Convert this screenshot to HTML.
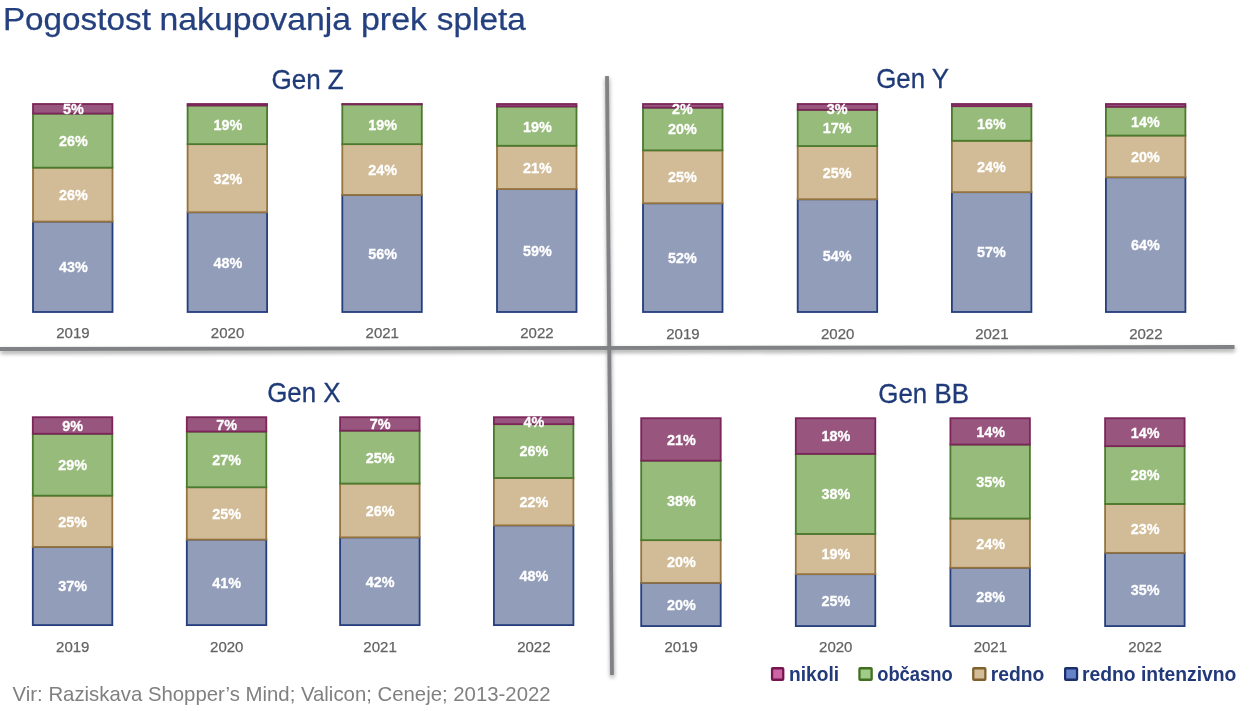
<!DOCTYPE html>
<html lang="sl"><head><meta charset="utf-8"><title>Pogostost nakupovanja prek spleta</title>
<style>
html,body{margin:0;padding:0;background:#fff;}
body{width:1251px;height:711px;overflow:hidden;position:relative;font-family:"Liberation Sans", sans-serif;}
svg{position:absolute;left:0;top:0;display:block;}
text{font-family:"Liberation Sans", sans-serif;}
.lbl{font-weight:bold;fill:#fff;stroke:#fff;stroke-width:0.3px;font-size:15.4px;text-anchor:middle;}
.yr{fill:#636363;stroke:#636363;stroke-width:0.25px;font-size:15.0px;text-anchor:middle;}
.gt{fill:#1F3A78;stroke:#1F3A78;stroke-width:0.3px;font-size:27.4px;}
.lg{fill:#22397A;font-weight:bold;font-size:19.8px;}
</style></head><body>
<svg width="1251" height="711" viewBox="0 0 1251 711">
<defs>
<filter id="sh" x="-5%" y="-5%" width="110%" height="110%" filterUnits="userSpaceOnUse">
<feGaussianBlur stdDeviation="1.9"/>
</filter>
</defs>

<text y="29.8" font-size="30.8" fill="#24407E" stroke="#24407E" stroke-width="0.25"><tspan x="2.9" textLength="148" lengthAdjust="spacingAndGlyphs">Pogostost</tspan> <tspan x="159.5" textLength="191.5" lengthAdjust="spacingAndGlyphs">nakupovanja</tspan> <tspan x="361" textLength="66" lengthAdjust="spacingAndGlyphs">prek</tspan> <tspan x="436.8" textLength="89" lengthAdjust="spacingAndGlyphs">spleta</tspan></text>
<g opacity="0.38" filter="url(#sh)" fill="none" stroke="#000" stroke-width="4">
<line x1="0.5" y1="351.6" x2="1235" y2="349.6"/>
<line x1="607.3" y1="78.6" x2="612.3" y2="677.6"/>
</g>
<g fill="none" stroke="#808285" stroke-width="3.8">
<line x1="0" y1="349" x2="1234.5" y2="347"/>
<line x1="607" y1="76" x2="612" y2="675"/>
</g>
<text class="gt" x="271.4" y="89" textLength="72.4" lengthAdjust="spacingAndGlyphs">Gen Z</text>
<text class="gt" x="876.2" y="87.8" textLength="72.8" lengthAdjust="spacingAndGlyphs">Gen Y</text>
<text class="gt" x="267.2" y="402" textLength="73.3" lengthAdjust="spacingAndGlyphs">Gen X</text>
<text class="gt" x="878.3" y="403" textLength="90.6" lengthAdjust="spacingAndGlyphs">Gen BB</text>
<rect x="33.00" y="221.55" width="79.50" height="90.45" fill="#929DBA" stroke="#243E7E" stroke-width="1.8"/>
<rect x="33.00" y="167.65" width="79.50" height="53.90" fill="#D2BC98" stroke="#94733F" stroke-width="1.8"/>
<rect x="33.00" y="113.55" width="79.50" height="54.10" fill="#97BB7B" stroke="#4B7A2E" stroke-width="1.8"/>
<rect x="33.00" y="104.00" width="79.50" height="9.55" fill="#98557E" stroke="#7B2559" stroke-width="1.8"/>
<text class="lbl" transform="translate(73.35 114.18) scale(0.935 1)">5%</text>
<text class="lbl" transform="translate(73.35 146.00) scale(0.935 1)">26%</text>
<text class="lbl" transform="translate(73.35 200.00) scale(0.935 1)">26%</text>
<text class="lbl" transform="translate(73.35 272.17) scale(0.935 1)">43%</text>
<text class="yr" transform="translate(72.95 337.90) scale(1.0 1)">2019</text>
<rect x="187.60" y="212.25" width="79.50" height="99.75" fill="#929DBA" stroke="#243E7E" stroke-width="1.8"/>
<rect x="187.60" y="144.15" width="79.50" height="68.10" fill="#D2BC98" stroke="#94733F" stroke-width="1.8"/>
<rect x="187.60" y="105.45" width="79.50" height="38.70" fill="#97BB7B" stroke="#4B7A2E" stroke-width="1.8"/>
<rect x="187.60" y="104.00" width="79.50" height="1.45" fill="#98557E" stroke="#7B2559" stroke-width="1.8"/>
<text class="lbl" transform="translate(227.95 130.20) scale(0.935 1)">19%</text>
<text class="lbl" transform="translate(227.95 183.60) scale(0.935 1)">32%</text>
<text class="lbl" transform="translate(227.95 267.52) scale(0.935 1)">48%</text>
<text class="yr" transform="translate(227.55 337.90) scale(1.0 1)">2020</text>
<rect x="342.30" y="194.95" width="79.50" height="117.05" fill="#929DBA" stroke="#243E7E" stroke-width="1.8"/>
<rect x="342.30" y="144.15" width="79.50" height="50.80" fill="#D2BC98" stroke="#94733F" stroke-width="1.8"/>
<rect x="342.30" y="104.35" width="79.50" height="39.80" fill="#97BB7B" stroke="#4B7A2E" stroke-width="1.8"/>
<rect x="342.30" y="104.00" width="79.50" height="0.35" fill="#98557E" stroke="#7B2559" stroke-width="1.8"/>
<text class="lbl" transform="translate(382.65 129.65) scale(0.935 1)">19%</text>
<text class="lbl" transform="translate(382.65 174.95) scale(0.935 1)">24%</text>
<text class="lbl" transform="translate(382.65 258.88) scale(0.935 1)">56%</text>
<text class="yr" transform="translate(382.25 337.90) scale(1.0 1)">2021</text>
<rect x="497.00" y="189.05" width="79.50" height="122.95" fill="#929DBA" stroke="#243E7E" stroke-width="1.8"/>
<rect x="497.00" y="145.75" width="79.50" height="43.30" fill="#D2BC98" stroke="#94733F" stroke-width="1.8"/>
<rect x="497.00" y="106.45" width="79.50" height="39.30" fill="#97BB7B" stroke="#4B7A2E" stroke-width="1.8"/>
<rect x="497.00" y="104.00" width="79.50" height="2.45" fill="#98557E" stroke="#7B2559" stroke-width="1.8"/>
<text class="lbl" transform="translate(537.35 131.50) scale(0.935 1)">19%</text>
<text class="lbl" transform="translate(537.35 172.80) scale(0.935 1)">21%</text>
<text class="lbl" transform="translate(537.35 255.92) scale(0.935 1)">59%</text>
<text class="yr" transform="translate(536.95 337.90) scale(1.0 1)">2022</text>
<rect x="643.00" y="203.25" width="79.50" height="108.75" fill="#929DBA" stroke="#243E7E" stroke-width="1.8"/>
<rect x="643.00" y="150.35" width="79.50" height="52.90" fill="#D2BC98" stroke="#94733F" stroke-width="1.8"/>
<rect x="643.00" y="107.65" width="79.50" height="42.70" fill="#97BB7B" stroke="#4B7A2E" stroke-width="1.8"/>
<rect x="643.00" y="104.00" width="79.50" height="3.65" fill="#98557E" stroke="#7B2559" stroke-width="1.8"/>
<text class="lbl" transform="translate(682.45 113.70) scale(0.935 1)">2%</text>
<text class="lbl" transform="translate(682.45 134.40) scale(0.935 1)">20%</text>
<text class="lbl" transform="translate(682.45 182.20) scale(0.935 1)">25%</text>
<text class="lbl" transform="translate(682.45 263.02) scale(0.935 1)">52%</text>
<text class="yr" transform="translate(682.95 338.60) scale(1.0 1)">2019</text>
<rect x="797.70" y="199.25" width="79.50" height="112.75" fill="#929DBA" stroke="#243E7E" stroke-width="1.8"/>
<rect x="797.70" y="146.05" width="79.50" height="53.20" fill="#D2BC98" stroke="#94733F" stroke-width="1.8"/>
<rect x="797.70" y="109.85" width="79.50" height="36.20" fill="#97BB7B" stroke="#4B7A2E" stroke-width="1.8"/>
<rect x="797.70" y="104.00" width="79.50" height="5.85" fill="#98557E" stroke="#7B2559" stroke-width="1.8"/>
<text class="lbl" transform="translate(837.15 113.70) scale(0.935 1)">3%</text>
<text class="lbl" transform="translate(837.15 133.35) scale(0.935 1)">17%</text>
<text class="lbl" transform="translate(837.15 178.05) scale(0.935 1)">25%</text>
<text class="lbl" transform="translate(837.15 261.02) scale(0.935 1)">54%</text>
<text class="yr" transform="translate(837.65 338.60) scale(1.0 1)">2020</text>
<rect x="951.90" y="192.15" width="79.50" height="119.85" fill="#929DBA" stroke="#243E7E" stroke-width="1.8"/>
<rect x="951.90" y="140.75" width="79.50" height="51.40" fill="#D2BC98" stroke="#94733F" stroke-width="1.8"/>
<rect x="951.90" y="106.15" width="79.50" height="34.60" fill="#97BB7B" stroke="#4B7A2E" stroke-width="1.8"/>
<rect x="951.90" y="104.00" width="79.50" height="2.15" fill="#98557E" stroke="#7B2559" stroke-width="1.8"/>
<text class="lbl" transform="translate(991.35 128.85) scale(0.935 1)">16%</text>
<text class="lbl" transform="translate(991.35 171.85) scale(0.935 1)">24%</text>
<text class="lbl" transform="translate(991.35 257.47) scale(0.935 1)">57%</text>
<text class="yr" transform="translate(991.85 338.60) scale(1.0 1)">2021</text>
<rect x="1105.90" y="177.25" width="79.50" height="134.75" fill="#929DBA" stroke="#243E7E" stroke-width="1.8"/>
<rect x="1105.90" y="135.55" width="79.50" height="41.70" fill="#D2BC98" stroke="#94733F" stroke-width="1.8"/>
<rect x="1105.90" y="106.75" width="79.50" height="28.80" fill="#97BB7B" stroke="#4B7A2E" stroke-width="1.8"/>
<rect x="1105.90" y="104.00" width="79.50" height="2.75" fill="#98557E" stroke="#7B2559" stroke-width="1.8"/>
<text class="lbl" transform="translate(1145.35 126.55) scale(0.935 1)">14%</text>
<text class="lbl" transform="translate(1145.35 161.80) scale(0.935 1)">20%</text>
<text class="lbl" transform="translate(1145.35 250.03) scale(0.935 1)">64%</text>
<text class="yr" transform="translate(1145.85 338.60) scale(1.0 1)">2022</text>
<rect x="32.80" y="546.95" width="79.50" height="78.15" fill="#929DBA" stroke="#243E7E" stroke-width="1.8"/>
<rect x="32.80" y="495.65" width="79.50" height="51.30" fill="#D2BC98" stroke="#94733F" stroke-width="1.8"/>
<rect x="32.80" y="433.75" width="79.50" height="61.90" fill="#97BB7B" stroke="#4B7A2E" stroke-width="1.8"/>
<rect x="32.80" y="417.20" width="79.50" height="16.55" fill="#98557E" stroke="#7B2559" stroke-width="1.8"/>
<text class="lbl" transform="translate(72.75 430.88) scale(0.935 1)">9%</text>
<text class="lbl" transform="translate(72.75 470.10) scale(0.935 1)">29%</text>
<text class="lbl" transform="translate(72.75 526.70) scale(0.935 1)">25%</text>
<text class="lbl" transform="translate(72.75 591.43) scale(0.935 1)">37%</text>
<text class="yr" transform="translate(72.75 651.90) scale(1.0 1)">2019</text>
<rect x="186.80" y="539.55" width="79.50" height="85.55" fill="#929DBA" stroke="#243E7E" stroke-width="1.8"/>
<rect x="186.80" y="487.25" width="79.50" height="52.30" fill="#D2BC98" stroke="#94733F" stroke-width="1.8"/>
<rect x="186.80" y="431.55" width="79.50" height="55.70" fill="#97BB7B" stroke="#4B7A2E" stroke-width="1.8"/>
<rect x="186.80" y="417.20" width="79.50" height="14.35" fill="#98557E" stroke="#7B2559" stroke-width="1.8"/>
<text class="lbl" transform="translate(226.75 429.77) scale(0.935 1)">7%</text>
<text class="lbl" transform="translate(226.75 464.80) scale(0.935 1)">27%</text>
<text class="lbl" transform="translate(226.75 518.80) scale(0.935 1)">25%</text>
<text class="lbl" transform="translate(226.75 587.73) scale(0.935 1)">41%</text>
<text class="yr" transform="translate(226.75 651.90) scale(1.0 1)">2020</text>
<rect x="340.10" y="537.35" width="79.50" height="87.75" fill="#929DBA" stroke="#243E7E" stroke-width="1.8"/>
<rect x="340.10" y="483.55" width="79.50" height="53.80" fill="#D2BC98" stroke="#94733F" stroke-width="1.8"/>
<rect x="340.10" y="430.65" width="79.50" height="52.90" fill="#97BB7B" stroke="#4B7A2E" stroke-width="1.8"/>
<rect x="340.10" y="417.20" width="79.50" height="13.45" fill="#98557E" stroke="#7B2559" stroke-width="1.8"/>
<text class="lbl" transform="translate(380.05 429.32) scale(0.935 1)">7%</text>
<text class="lbl" transform="translate(380.05 462.50) scale(0.935 1)">25%</text>
<text class="lbl" transform="translate(380.05 515.85) scale(0.935 1)">26%</text>
<text class="lbl" transform="translate(380.05 586.62) scale(0.935 1)">42%</text>
<text class="yr" transform="translate(380.05 651.90) scale(1.0 1)">2021</text>
<rect x="493.90" y="525.35" width="79.50" height="99.75" fill="#929DBA" stroke="#243E7E" stroke-width="1.8"/>
<rect x="493.90" y="477.95" width="79.50" height="47.40" fill="#D2BC98" stroke="#94733F" stroke-width="1.8"/>
<rect x="493.90" y="424.15" width="79.50" height="53.80" fill="#97BB7B" stroke="#4B7A2E" stroke-width="1.8"/>
<rect x="493.90" y="417.20" width="79.50" height="6.95" fill="#98557E" stroke="#7B2559" stroke-width="1.8"/>
<text class="lbl" transform="translate(533.85 426.90) scale(0.935 1)">4%</text>
<text class="lbl" transform="translate(533.85 456.45) scale(0.935 1)">26%</text>
<text class="lbl" transform="translate(533.85 507.05) scale(0.935 1)">22%</text>
<text class="lbl" transform="translate(533.85 580.62) scale(0.935 1)">48%</text>
<text class="yr" transform="translate(533.85 651.90) scale(1.0 1)">2022</text>
<rect x="641.20" y="582.85" width="79.50" height="43.25" fill="#929DBA" stroke="#243E7E" stroke-width="1.8"/>
<rect x="641.20" y="540.15" width="79.50" height="42.70" fill="#D2BC98" stroke="#94733F" stroke-width="1.8"/>
<rect x="641.20" y="460.65" width="79.50" height="79.50" fill="#97BB7B" stroke="#4B7A2E" stroke-width="1.8"/>
<rect x="641.20" y="418.20" width="79.50" height="42.45" fill="#98557E" stroke="#7B2559" stroke-width="1.8"/>
<text class="lbl" transform="translate(681.35 444.82) scale(0.935 1)">21%</text>
<text class="lbl" transform="translate(681.35 505.80) scale(0.935 1)">38%</text>
<text class="lbl" transform="translate(681.35 566.90) scale(0.935 1)">20%</text>
<text class="lbl" transform="translate(681.35 609.88) scale(0.935 1)">20%</text>
<text class="yr" transform="translate(681.15 651.90) scale(1.0 1)">2019</text>
<rect x="795.80" y="574.15" width="79.50" height="51.95" fill="#929DBA" stroke="#243E7E" stroke-width="1.8"/>
<rect x="795.80" y="533.95" width="79.50" height="40.20" fill="#D2BC98" stroke="#94733F" stroke-width="1.8"/>
<rect x="795.80" y="453.85" width="79.50" height="80.10" fill="#97BB7B" stroke="#4B7A2E" stroke-width="1.8"/>
<rect x="795.80" y="418.20" width="79.50" height="35.65" fill="#98557E" stroke="#7B2559" stroke-width="1.8"/>
<text class="lbl" transform="translate(835.95 441.42) scale(0.935 1)">18%</text>
<text class="lbl" transform="translate(835.95 499.30) scale(0.935 1)">38%</text>
<text class="lbl" transform="translate(835.95 559.45) scale(0.935 1)">19%</text>
<text class="lbl" transform="translate(835.95 605.52) scale(0.935 1)">25%</text>
<text class="yr" transform="translate(835.75 651.90) scale(1.0 1)">2020</text>
<rect x="950.40" y="567.75" width="79.50" height="58.35" fill="#929DBA" stroke="#243E7E" stroke-width="1.8"/>
<rect x="950.40" y="518.55" width="79.50" height="49.20" fill="#D2BC98" stroke="#94733F" stroke-width="1.8"/>
<rect x="950.40" y="444.55" width="79.50" height="74.00" fill="#97BB7B" stroke="#4B7A2E" stroke-width="1.8"/>
<rect x="950.40" y="418.20" width="79.50" height="26.35" fill="#98557E" stroke="#7B2559" stroke-width="1.8"/>
<text class="lbl" transform="translate(990.55 436.77) scale(0.935 1)">14%</text>
<text class="lbl" transform="translate(990.55 486.95) scale(0.935 1)">35%</text>
<text class="lbl" transform="translate(990.55 548.55) scale(0.935 1)">24%</text>
<text class="lbl" transform="translate(990.55 602.32) scale(0.935 1)">28%</text>
<text class="yr" transform="translate(990.35 651.90) scale(1.0 1)">2021</text>
<rect x="1105.10" y="552.85" width="79.50" height="73.25" fill="#929DBA" stroke="#243E7E" stroke-width="1.8"/>
<rect x="1105.10" y="503.95" width="79.50" height="48.90" fill="#D2BC98" stroke="#94733F" stroke-width="1.8"/>
<rect x="1105.10" y="446.15" width="79.50" height="57.80" fill="#97BB7B" stroke="#4B7A2E" stroke-width="1.8"/>
<rect x="1105.10" y="418.20" width="79.50" height="27.95" fill="#98557E" stroke="#7B2559" stroke-width="1.8"/>
<text class="lbl" transform="translate(1145.25 437.57) scale(0.935 1)">14%</text>
<text class="lbl" transform="translate(1145.25 480.45) scale(0.935 1)">28%</text>
<text class="lbl" transform="translate(1145.25 533.80) scale(0.935 1)">23%</text>
<text class="lbl" transform="translate(1145.25 594.88) scale(0.935 1)">35%</text>
<text class="yr" transform="translate(1145.05 651.90) scale(1.0 1)">2022</text>
<rect x="772.05" y="668.25" width="11.20" height="11.5" rx="0.8" fill="#CD65A5" stroke="#75174E" stroke-width="2.3"/>
<rect x="859.45" y="668.25" width="12.20" height="11.5" rx="0.8" fill="#A0CB88" stroke="#40701F" stroke-width="2.3"/>
<rect x="973.25" y="668.25" width="12.10" height="11.5" rx="0.8" fill="#D3BC98" stroke="#80602C" stroke-width="2.3"/>
<rect x="1065.15" y="668.25" width="11.90" height="11.5" rx="0.8" fill="#6683CA" stroke="#1B2F6B" stroke-width="2.3"/>
<text class="lg" x="789.1" y="680.7" textLength="50" lengthAdjust="spacingAndGlyphs">nikoli</text>
<text class="lg" x="877.2" y="680.7" textLength="75.5" lengthAdjust="spacingAndGlyphs">občasno</text>
<text class="lg" x="990.7" y="680.7" textLength="53.6" lengthAdjust="spacingAndGlyphs">redno</text>
<text class="lg" x="1082" y="680.7" textLength="154.4" lengthAdjust="spacingAndGlyphs">redno intenzivno</text>
<text x="12.6" y="701.3" font-size="20.8" fill="#808080" textLength="538" lengthAdjust="spacingAndGlyphs">Vir: Raziskava Shopper’s Mind; Valicon; Ceneje; 2013-2022</text>
</svg></body></html>
